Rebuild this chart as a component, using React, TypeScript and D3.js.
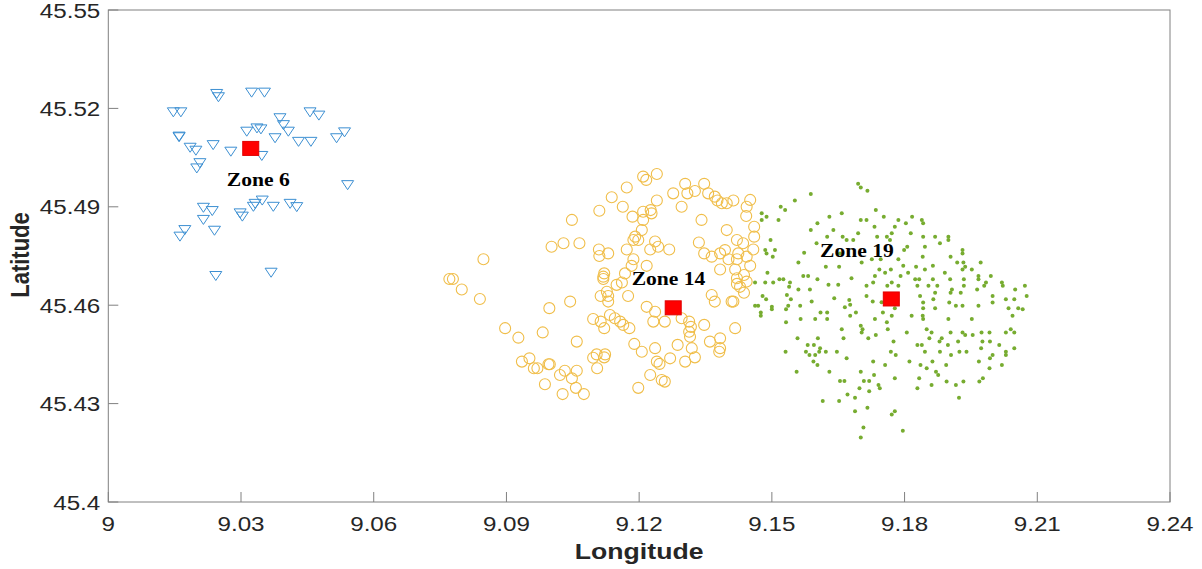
import * as d3 from 'd3';

// longitude / latitude of each customer, by zone
const zone6: [number, number][] = [
  [9.0245,45.5244],[9.0249,45.5234],[9.0324,45.5248],[9.0353,45.5248],
  [9.0147,45.5188],[9.0164,45.5188],
  [9.0388,45.5170],[9.0396,45.5149],[9.0407,45.5129],
  [9.0456,45.5188],[9.0476,45.5178],
  [9.0313,45.5129],[9.0336,45.5139],[9.0345,45.5136],
  [9.0160,45.5114],[9.0160,45.5112],
  [9.0185,45.5080],[9.0198,45.5071],
  [9.0237,45.5088],[9.0277,45.5068],[9.0347,45.5055],[9.0377,45.5109],
  [9.0430,45.5098],[9.0458,45.5098],[9.0516,45.5109],[9.0534,45.5127],
  [9.0541,45.4966],[9.0207,45.5033],[9.0200,45.5017],
  [9.0215,45.4897],[9.0235,45.4887],[9.0215,45.4860],[9.0173,45.4829],[9.0162,45.4809],[9.0240,45.4827],
  [9.0298,45.4880],[9.0303,45.4870],
  [9.0328,45.4900],[9.0332,45.4909],[9.0348,45.4919],[9.0373,45.4900],
  [9.0411,45.4909],[9.0426,45.4899],
  [9.0243,45.4689],[9.0368,45.4699],
];

const zone14: [number, number][] = [
  [9.1110,45.4888],[9.1048,45.4860],[9.1002,45.4778],[9.1029,45.4789],[9.1065,45.4789],[9.1109,45.4770],
  [9.1110,45.4750],[9.1130,45.4758],[9.0848,45.4740],[9.0771,45.4680],[9.0779,45.4680],[9.0799,45.4648],
  [9.0840,45.4619],[9.1119,45.4687],[9.1119,45.4680],[9.1044,45.4611],[9.0997,45.4591],[9.1113,45.4628],
  [9.1130,45.4628],[9.1130,45.4611],[9.1096,45.4558],[9.1113,45.4550],[9.1121,45.4530],[9.1134,45.4570],
  [9.0897,45.4530],[9.0927,45.4501],[9.0982,45.4517],[9.1059,45.4489],[9.0935,45.4428],[9.0952,45.4438],
  [9.0962,45.4408],[9.0970,45.4408],[9.0995,45.4420],[9.0998,45.4420],[9.1021,45.4387],[9.1032,45.4400],
  [9.1059,45.4400],[9.1048,45.4377],[9.1096,45.4440],[9.1104,45.4450],[9.1121,45.4441],[9.1123,45.4450],
  [9.1105,45.4408],[9.0987,45.4359],[9.1027,45.4329],[9.1057,45.4348],[9.1075,45.4329],
  [9.1209,45.4992],[9.1216,45.4982],[9.1240,45.5000],[9.1172,45.4959],[9.1138,45.4929],[9.1163,45.4900],
  [9.1185,45.4870],[9.1209,45.4885],[9.1226,45.4890],[9.1228,45.4880],[9.1209,45.4860],[9.1240,45.4919],
  [9.1277,45.4941],[9.1304,45.4970],[9.1309,45.4941],[9.1326,45.4948],[9.1347,45.4970],[9.1296,45.4900],
  [9.1356,45.4941],[9.1371,45.4931],[9.1377,45.4919],[9.1387,45.4911],[9.1398,45.4911],[9.1413,45.4919],
  [9.1451,45.4921],[9.1443,45.4900],[9.1442,45.4872],[9.1460,45.4839],[9.1460,45.4809],[9.1341,45.4860],
  [9.1398,45.4829],[9.1206,45.4829],[9.1191,45.4809],[9.1187,45.4799],[9.1198,45.4799],[9.1172,45.4770],
  [9.1236,45.4794],[9.1243,45.4778],[9.1225,45.4770],[9.1268,45.4770],[9.1335,45.4791],[9.1347,45.4758],
  [9.1364,45.4748],[9.1383,45.4758],[9.1394,45.4768],[9.1421,45.4799],[9.1435,45.4789],[9.1458,45.4770],
  [9.1424,45.4758],[9.1443,45.4748],[9.1402,45.4740],[9.1421,45.4740],[9.1187,45.4740],[9.1183,45.4720],
  [9.1217,45.4720],[9.1383,45.4709],[9.1417,45.4709],[9.1451,45.4720],[9.1421,45.4682],[9.1437,45.4692],
  [9.1443,45.4672],[9.1121,45.4697],[9.1168,45.4697],[9.1149,45.4662],[9.1127,45.4641],[9.1161,45.4669],
  [9.1421,45.4665],[9.1428,45.4656],[9.1437,45.4638],[9.1175,45.4628],[9.1364,45.4631],[9.1371,45.4611],
  [9.1409,45.4611],[9.1413,45.4611],[9.1217,45.4595],[9.1236,45.4580],[9.1145,45.4560],[9.1157,45.4550],
  [9.1164,45.4540],[9.1178,45.4530],[9.1232,45.4550],[9.1258,45.4550],[9.1296,45.4560],[9.1313,45.4550],
  [9.1317,45.4534],[9.1313,45.4519],[9.1315,45.4504],[9.1347,45.4540],[9.1417,45.4530],[9.1360,45.4489],
  [9.1383,45.4499],[9.1383,45.4469],[9.1381,45.4458],[9.1287,45.4479],[9.1319,45.4469],[9.1326,45.4441],
  [9.1304,45.4428],[9.1189,45.4482],[9.1206,45.4458],[9.1236,45.4469],[9.1270,45.4438],[9.1240,45.4428],
  [9.1246,45.4421],[9.1225,45.4387],[9.1251,45.4372],[9.1258,45.4367],[9.1198,45.4348],
];

const zone19: [number, number][] = [
  [9.1695,45.4970],[9.1701,45.4959],[9.1716,45.4949],[9.1588,45.4939],[9.1552,45.4919],[9.1520,45.4900],
  [9.1530,45.4890],[9.1477,45.4880],[9.1488,45.4870],[9.1477,45.4860],[9.1515,45.4860],[9.1630,45.4870],
  [9.1658,45.4880],[9.1603,45.4850],[9.1588,45.4829],[9.1639,45.4829],[9.1701,45.4860],[9.1714,45.4860],
  [9.1735,45.4890],[9.1753,45.4870],[9.1732,45.4839],[9.1695,45.4819],[9.1625,45.4809],[9.1660,45.4809],
  [9.1669,45.4799],[9.1684,45.4799],[9.1738,45.4809],[9.1760,45.4809],[9.1497,45.4799],[9.1601,45.4789],
  [9.1485,45.4768],[9.1488,45.4758],[9.1507,45.4768],[9.1502,45.4748],[9.1573,45.4760],[9.1560,45.4730],
  [9.1622,45.4717],[9.1652,45.4717],[9.1703,45.4730],[9.1726,45.4740],[9.1746,45.4740],[9.1743,45.4709],
  [9.1756,45.4699],[9.1733,45.4689],[9.1490,45.4699],[9.1571,45.4689],[9.1582,45.4689],[9.1517,45.4679],
  [9.1526,45.4679],[9.1603,45.4679],[9.1462,45.4669],[9.1485,45.4669],[9.1503,45.4669],[9.1541,45.4669],
  [9.1539,45.4656],[9.1560,45.4648],[9.1586,45.4648],[9.1628,45.4662],[9.1650,45.4662],[9.1714,45.4659],
  [9.1729,45.4669],[9.1680,45.4682],[9.1479,45.4628],[9.1487,45.4618],[9.1534,45.4631],[9.1543,45.4618],
  [9.1590,45.4611],[9.1641,45.4621],[9.1675,45.4616],[9.1714,45.4628],[9.1728,45.4611],[9.1462,45.4598],
  [9.1469,45.4598],[9.1500,45.4595],[9.1537,45.4598],[9.1564,45.4598],[9.1665,45.4594],[9.1677,45.4601],
  [9.1654,45.4758],
  [9.1786,45.4860],[9.1803,45.4850],[9.1817,45.4870],[9.1839,45.4860],[9.1842,45.4850],[9.1778,45.4839],
  [9.1771,45.4819],[9.1767,45.4799],[9.1814,45.4819],[9.1842,45.4809],[9.1869,45.4809],[9.1880,45.4789],
  [9.1899,45.4809],[9.1899,45.4799],[9.1806,45.4778],[9.1799,45.4768],[9.1846,45.4778],[9.1931,45.4768],
  [9.1931,45.4758],[9.1786,45.4740],[9.1841,45.4748],[9.1904,45.4748],[9.1919,45.4730],[9.1933,45.4730],
  [9.1937,45.4717],[9.1972,45.4730],[9.1769,45.4709],[9.1797,45.4720],[9.1826,45.4717],[9.1846,45.4709],
  [9.1864,45.4720],[9.1931,45.4709],[9.1952,45.4709],[9.1808,45.4699],[9.1891,45.4699],[9.1791,45.4689],
  [9.1967,45.4689],[9.1967,45.4679],[9.1995,45.4689],[9.1824,45.4679],[9.1833,45.4679],[9.1864,45.4679],
  [9.1903,45.4679],[9.1934,45.4679],[9.1984,45.4669],[9.2020,45.4669],[9.2022,45.4659],[9.1771,45.4669],
  [9.1761,45.4659],[9.1786,45.4659],[9.1829,45.4659],[9.1854,45.4659],[9.1874,45.4659],[9.1907,45.4648],
  [9.1904,45.4638],[9.1934,45.4659],[9.1964,45.4648],[9.1980,45.4659],[9.2050,45.4648],[9.2072,45.4659],
  [9.1869,45.4638],[9.1927,45.4638],[9.1835,45.4628],[9.1865,45.4618],[9.1901,45.4608],[9.1916,45.4598],
  [9.1931,45.4598],[9.1967,45.4598],[9.1999,45.4628],[9.1999,45.4608],[9.2029,45.4618],[9.2048,45.4618],
  [9.2076,45.4628],[9.1842,45.4608],[9.1842,45.4591],[9.1869,45.4591],[9.2035,45.4591],[9.2057,45.4591],
  [9.1778,45.4591],
  [9.1500,45.4588],[9.1532,45.4588],[9.1475,45.4578],[9.1475,45.4568],[9.1532,45.4548],[9.1565,45.4558],
  [9.1598,45.4558],[9.1625,45.4558],[9.1610,45.4578],[9.1625,45.4578],[9.1690,45.4578],[9.1677,45.4568],
  [9.1748,45.4609],[9.1751,45.4578],[9.1733,45.4558],[9.1760,45.4548],[9.1701,45.4537],[9.1705,45.4527],
  [9.1703,45.4517],[9.1658,45.4527],[9.1762,45.4527],[9.1735,45.4509],[9.1718,45.4499],[9.1558,45.4499],
  [9.1604,45.4499],[9.1662,45.4499],[9.1581,45.4479],[9.1595,45.4479],[9.1609,45.4469],[9.1577,45.4458],
  [9.1585,45.4448],[9.1598,45.4448],[9.1607,45.4458],[9.1622,45.4458],[9.1531,45.4458],[9.1647,45.4458],
  [9.1669,45.4438],[9.1594,45.4428],[9.1603,45.4418],[9.1556,45.4397],[9.1630,45.4397],[9.1701,45.4397],
  [9.1729,45.4428],[9.1756,45.4418],[9.1731,45.4387],[9.1654,45.4369],[9.1664,45.4369],[9.1708,45.4369],
  [9.1720,45.4369],[9.1741,45.4357],[9.1744,45.4347],[9.1698,45.4347],[9.1720,45.4338],[9.1671,45.4328],
  [9.1688,45.4318],[9.1615,45.4308],[9.1652,45.4308],[9.1716,45.4287],[9.1688,45.4277],[9.1707,45.4227],
  [9.1701,45.4197],
  [9.1771,45.4568],[9.1841,45.4568],[9.1842,45.4558],[9.1816,45.4568],[9.1899,45.4558],[9.1952,45.4558],
  [9.2067,45.4588],[9.2044,45.4568],[9.1805,45.4517],[9.1850,45.4527],[9.1861,45.4517],[9.1904,45.4517],
  [9.1931,45.4517],[9.1937,45.4509],[9.1954,45.4509],[9.1974,45.4517],[9.1992,45.4517],[9.2029,45.4517],
  [9.2040,45.4527],[9.2048,45.4517],[9.1884,45.4499],[9.1879,45.4489],[9.1856,45.4499],[9.1829,45.4479],
  [9.1839,45.4479],[9.1898,45.4479],[9.1921,45.4489],[9.1976,45.4489],[9.1993,45.4489],[9.2014,45.4479],
  [9.1775,45.4489],[9.1769,45.4458],[9.1780,45.4448],[9.1846,45.4458],[9.1880,45.4458],[9.1905,45.4448],
  [9.1924,45.4458],[9.1940,45.4458],[9.1973,45.4469],[9.2029,45.4458],[9.2029,45.4448],[9.1999,45.4448],
  [9.1993,45.4438],[9.2048,45.4469],[9.1811,45.4428],[9.1836,45.4418],[9.1863,45.4428],[9.1894,45.4418],
  [9.1968,45.4428],[9.2020,45.4418],[9.1850,45.4408],[9.1871,45.4397],[9.1876,45.4387],[9.1992,45.4408],
  [9.1778,45.4377],[9.1833,45.4377],[9.1895,45.4367],[9.1933,45.4367],[9.1969,45.4367],[9.1977,45.4377],
  [9.1861,45.4357],[9.1916,45.4357],[9.1829,45.4347],[9.1923,45.4318],[9.1778,45.4277],[9.1771,45.4267],
  [9.1796,45.4217],
];

const centers: [number, number][] = [[9.0322, 45.5078], [9.1277, 45.4592], [9.1770, 45.4619]];
const zoneNames = ['Zone 6', 'Zone 14', 'Zone 19'];
const zoneLabelAt: [number, number][] = [[9.0268, 45.4963], [9.1183, 45.4662], [9.1609, 45.4746]];

const xTicks = [9, 9.03, 9.06, 9.09, 9.12, 9.15, 9.18, 9.21, 9.24];
const yTicks = [45.4, 45.43, 45.46, 45.49, 45.52, 45.55];

const W = 1202, H = 569;
const left = 108.3, right = 1170, top = 10, bottom = 502;
const SX = 1.21; // the reference is stretched sideways

export default function App() {
  const x = d3.scaleLinear().domain([9, 9.24]).range([left, right]);
  const y = d3.scaleLinear().domain([45.4, 45.55]).range([bottom, top]);
  const tri = 'M-6,-4.5L6,-4.5L0,4.5Z';
  const axisColor = '#808080';
  const txt = '#262626';

  return (
    <svg width={W} height={H} style={{ position: 'absolute', left: 0, top: 0, background: '#fff' }}
      fontFamily="'Liberation Sans', Arial, sans-serif">
      <rect x={left} y={top} width={right - left} height={bottom - top} fill="#fff" stroke={axisColor} strokeWidth={1} />

      {xTicks.map(t => (
        <g key={'x' + t}>
          <line x1={x(t)} x2={x(t)} y1={bottom} y2={bottom - 10} stroke={axisColor} />
          <text transform={`translate(${x(t)},${bottom + 29}) scale(${SX},1)`} textAnchor="middle"
            fontSize={20} fill={txt}>{t}</text>
        </g>
      ))}
      {yTicks.map(t => (
        <g key={'y' + t}>
          <line x1={left} x2={left + 10} y1={y(t)} y2={y(t)} stroke={axisColor} />
          <text transform={`translate(${left - 8},${y(t) + 7.5}) scale(${SX},1)`} textAnchor="end"
            fontSize={20} fill={txt}>{t}</text>
        </g>
      ))}

      <text transform={`translate(${(left + right) / 2},559) scale(${SX},1)`} textAnchor="middle"
        fontSize={22} fontWeight="bold" fill={txt}>Longitude</text>
      <text transform={`translate(29,255) scale(${SX},1) rotate(-90)`} textAnchor="middle"
        fontSize={22} fontWeight="bold" fill={txt}>Latitude</text>

      <g fill="none" stroke="#3C8FD2" strokeWidth={1}>
        {zone6.map((d, i) => (
          <path key={i} d={tri} transform={`translate(${x(d[0])},${y(d[1])})`} />
        ))}
      </g>
      <g fill="none" stroke="#F0BE4A" strokeWidth={1.1}>
        {zone14.map((d, i) => (
          <circle key={i} cx={x(d[0])} cy={y(d[1])} r={5.5} />
        ))}
      </g>
      <g fill="#77AC30">
        {zone19.map((d, i) => (
          <circle key={i} cx={x(d[0])} cy={y(d[1])} r={2} />
        ))}
      </g>
      <g fill="#FF0000" stroke="#E00000" strokeWidth={1}>
        {centers.map((d, i) => (
          <rect key={i} x={x(d[0]) - 8} y={y(d[1]) - 7} width={16} height={14} />
        ))}
      </g>
      <g fontFamily="'Liberation Serif', 'Times New Roman', serif" fontWeight="bold" fontSize={18} fill="#000">
        {zoneNames.map((n, i) => (
          <text key={n} transform={`translate(${x(zoneLabelAt[i][0])},${y(zoneLabelAt[i][1])}) scale(1.2,1)`}>{n}</text>
        ))}
      </g>
    </svg>
  );
}
